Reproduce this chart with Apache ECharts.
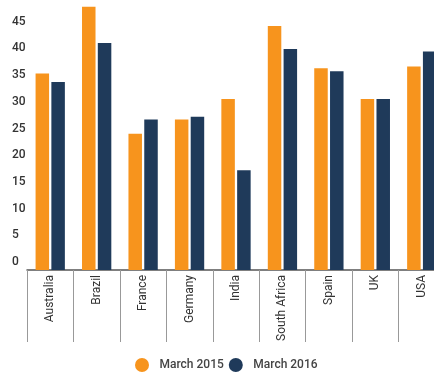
<!DOCTYPE html>
<html>
<head>
<meta charset="utf-8">
<script src="https://cdn.jsdelivr.net/npm/echarts@6/dist/echarts.min.js"></script>
<style>
  html, body { margin: 0; padding: 0; background: #fff; }
  #chart { width: 434px; height: 381px; }
</style>
</head>
<body>
<div id="chart"></div>
<script>
const countries = ["Australia", "Brazil", "France", "Germany", "India", "South Africa", "Spain", "UK", "USA"];
const march2015 = [36.8, 49.3, 25.5, 28.2, 32.0, 45.7, 37.8, 32.0, 38.1];
const march2016 = [35.2, 42.5, 28.2, 28.7, 18.7, 41.4, 37.2, 32.0, 40.9];
const seriesNames = ["March 2015", "March 2016"];

const chart = echarts.init(document.getElementById("chart"));

const option = {
  color: ["#F7941D", "#1F3A5A"],
  textStyle: { fontFamily: "Roboto" },
  grid: {
    left: 27,
    width: 418,
    top: 3,
    bottom: 111,
    outerBoundsMode: "none",
    containLabel: false
  },
  legend: {
    bottom: 4,
    left: 130,
    icon: "circle",
    itemWidth: 25,
    itemHeight: 14,
    itemGap: 5,
    textStyle: { color: "#444", fontSize: 12, fontWeight: 500 },
    data: seriesNames
  },
  xAxis: {
    type: "category",
    data: countries,
    axisLine: { lineStyle: { color: "#555", width: 1.5 } },
    axisTick: {
      show: true,
      interval: 0,
      length: 72,
      lineStyle: { color: "#999", width: 1 }
    },
    axisLabel: {
      interval: 0,
      rotate: 90,
      margin: 5,
      color: "#333",
      fontSize: 12
    }
  },
  yAxis: {
    type: "value",
    min: 0,
    max: 50,
    interval: 5,
    splitLine: { show: false },
    axisLine: { show: false },
    axisTick: { show: false },
    axisLabel: {
      showMaxLabel: false,
      align: "left",
      verticalAlign: "bottom",
      margin: 15,
      padding: [0, 0, 2, 0],
      color: "#333",
      fontSize: 12,
      fontWeight: 500
    }
  },
  series: [
    {
      name: seriesNames[0],
      type: "bar",
      data: march2015,
      barWidth: 13.5,
      barGap: "17%"
    },
    {
      name: seriesNames[1],
      type: "bar",
      data: march2016,
      barWidth: 13.5
    }
  ]
};

chart.setOption(option);
</script>
</body>
</html>
